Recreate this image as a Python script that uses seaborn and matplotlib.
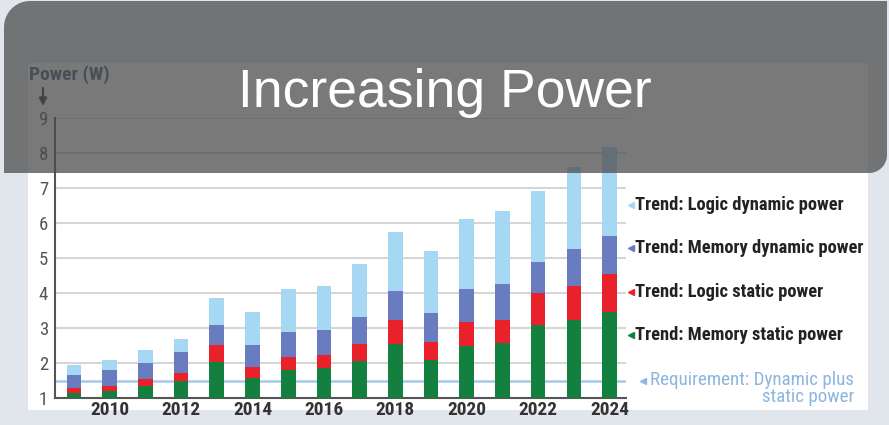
import numpy as np
import pandas as pd
import matplotlib
matplotlib.use("Agg")
import matplotlib.pyplot as plt
import seaborn as sns
from matplotlib import font_manager as fm
from matplotlib.path import Path
from matplotlib.patches import PathPatch, Rectangle
from matplotlib.transforms import blended_transform_factory

# ---- data: top of each stacked layer (W), one value per year ----
years = list(range(2009, 2025))
memory_static_top = [1.13, 1.20, 1.34, 1.49, 2.04, 1.58, 1.80, 1.85,
                     2.06, 2.54, 2.09, 2.49, 2.56, 3.09, 3.23, 3.47]
logic_static_top = [1.30, 1.34, 1.54, 1.71, 2.51, 1.90, 2.18, 2.24,
                    2.54, 3.23, 2.61, 3.18, 3.23, 3.99, 4.21, 4.53]
memory_dynamic_top = [1.66, 1.80, 1.99, 2.32, 3.09, 2.51, 2.90, 2.94,
                      3.32, 4.07, 3.42, 4.11, 4.25, 4.89, 5.25, 5.64]
logic_dynamic_top = [1.94, 2.09, 2.37, 2.70, 3.85, 3.47, 4.11, 4.20,
                     4.82, 5.74, 5.21, 6.11, 6.35, 6.91, 7.61, 8.18]
requirement_level = 1.5

y_ticks = [1, 2, 3, 4, 5, 6, 7, 8, 9]
x_tick_years = [2010, 2012, 2014, 2016, 2018, 2020, 2022, 2024]

layer_names = ["Trend: Logic dynamic power", "Trend: Memory dynamic power",
               "Trend: Logic static power", "Trend: Memory static power"]
layer_tops = [logic_dynamic_top, memory_dynamic_top,
              logic_static_top, memory_static_top]
layer_colors = ["#a7d8f3", "#687cbf", "#e8212b", "#13803f"]
label_levels = [6.51, 5.29, 4.03, 2.80]

requirement_text = "Requirement: Dynamic plus\nstatic power"
title_text = "Increasing Power"
y_title = "Power (W)"

# ---- pick a condensed sans face if one is installed ----
entries = fm.fontManager.ttflist
names = {f.name for f in entries}
stretch = "normal"
if "Liberation Sans Narrow" in names:
    fam = "Liberation Sans Narrow"
elif "Roboto Condensed" in names:
    fam = "Roboto Condensed"
elif any(f.name == "Roboto" and str(f.stretch) in ("condensed", "semi-condensed")
         for f in entries):
    fam, stretch = "Roboto", "condensed"
elif any(f.name == "DejaVu Sans" and str(f.stretch) in ("condensed", "semi-condensed")
         for f in entries):
    fam, stretch = "DejaVu Sans", "condensed"
else:
    fam = "Liberation Sans"

# ---- figure ----
W, H = 889, 425
sns.set_theme(style="white")
plt.rcParams["font.family"] = [fam, "DejaVu Sans"]
plt.rcParams["font.stretch"] = stretch

fig = plt.figure(figsize=(W / 100, H / 100), dpi=100)
fig.patch.set_facecolor("#e1e5ec")
renderer = fig.canvas.get_renderer()


def fx(px):
    return px / W


def fy(py):
    return 1 - py / H


def fitted_size(s, target_px, base=12.0, **kw):
    """Font size at which string s spans target_px pixels."""
    t = fig.text(0, 0, s, fontsize=base, **kw)
    w = t.get_window_extent(renderer).width
    t.remove()
    return base * target_px / w


trend_fs = fitted_size(layer_names[0], 210, fontweight="bold")
req_fs = fitted_size(requirement_text.split("\n")[0], 203)
xtick_fs = fitted_size("2010", 39, fontweight="bold")
ytitle_fs = fitted_size(y_title, 81, fontweight="bold")
ytick_fs = 13.5

# white card behind the chart
fig.add_artist(Rectangle((fx(28), fy(410)), (868 - 28) / W, (410 - 63) / H,
                         transform=fig.transFigure, facecolor="white",
                         edgecolor="none", zorder=-5))

ax = fig.add_axes([fx(55), fy(398), (626 - 55) / W, (398 - 118) / H])
ax.set_facecolor("none")

df = pd.DataFrame({
    "year": np.tile(years, len(layer_names)),
    "level": np.concatenate(layer_tops),
    "layer": np.repeat(layer_names, len(years)),
})

# tallest layer first so lower layers paint over it -> stacked look
for name, color in zip(layer_names, layer_colors):
    sub = df[df["layer"] == name]
    sns.barplot(data=sub, x="year", y="level", color=color, saturation=1,
                width=0.41, linewidth=0, ax=ax, zorder=3)

ax.set_ylim(1, 9)
ax.set_xlim(-0.532, 15.46)
ax.set_yticks(y_ticks)
ax.set_yticklabels([str(t) for t in y_ticks], fontsize=ytick_fs, color="#555555")
pos = [years.index(y) for y in x_tick_years]
ax.set_xticks(pos)
ax.set_xticklabels([str(y) for y in x_tick_years], fontsize=xtick_fs,
                   color="#333333", fontweight="bold")
ax.set_xlabel("")
ax.set_ylabel("")
ax.tick_params(axis="both", length=0)
ax.tick_params(axis="y", pad=5)
ax.tick_params(axis="x", pad=2)

ax.yaxis.grid(True, color="#d6d6d6", lw=1.5)
ax.set_axisbelow(True)
ax.axhline(requirement_level, color="#a9c9e8", lw=1.8, zorder=1)

for side in ["top", "right"]:
    ax.spines[side].set_visible(False)
for side in ["left", "bottom"]:
    ax.spines[side].set_color("#555555")
    ax.spines[side].set_linewidth(1.5)

# right-hand series labels with pointer triangles
tr = blended_transform_factory(ax.transAxes, ax.transData)
ax_w = 626 - 55
x_tri = (631 - 55) / ax_w
x_txt = (635 - 55) / ax_w
for name, color, lvl in zip(layer_names, layer_colors, label_levels):
    ax.plot([x_tri], [lvl], marker="<", color=color, markersize=5,
            transform=tr, clip_on=False)
    ax.text(x_txt, lvl, name, transform=tr, ha="left", va="center",
            fontsize=trend_fs, fontweight="bold", color="#222222")

# requirement note: two lines, second line right-aligned under the first
ax.plot([(643 - 55) / ax_w], [requirement_level], marker="<",
        color="#8fb9e2", markersize=5, transform=tr, clip_on=False)
ax.text((650 - 55) / ax_w, 1 + (398 - 371) / 35, requirement_text,
        transform=tr, ha="left", va="top", multialignment="right",
        linespacing=0.9, fontsize=req_fs, color="#8ab6e0")

# axis title and downward arrow
fig.text(fx(29), fy(75), y_title, ha="left", va="center", fontsize=ytitle_fs,
         fontweight="bold", color="#3f5878")
ax.annotate("", xy=(fx(43), fy(106)), xytext=(fx(43), fy(88)),
            xycoords="figure fraction", textcoords="figure fraction",
            arrowprops=dict(arrowstyle="-|>", color="#333333", lw=1.6,
                            mutation_scale=11, shrinkA=0, shrinkB=0))

# translucent header banner with rounded top-left / bottom-right corners
x0, x1, y0, y1 = 4, 887, 1, 173
r1, r2 = 26, 18
pts = [(x0, y0 + r1), (x0, y1), (x1 - r2, y1)]
for a in np.linspace(np.pi / 2, 0, 12):
    pts.append((x1 - r2 + r2 * np.cos(a), y1 - r2 + r2 * np.sin(a)))
pts += [(x1, y0), (x0 + r1, y0)]
for a in np.linspace(-np.pi / 2, -np.pi, 12):
    pts.append((x0 + r1 + r1 * np.cos(a), y0 + r1 + r1 * np.sin(a)))
verts = [(fx(px), fy(py)) for px, py in pts]
banner = PathPatch(Path(verts, closed=False), transform=fig.transFigure,
                   facecolor="#4b4b4b", edgecolor="none", alpha=0.74,
                   zorder=20)
fig.add_artist(banner)

fig.text(fx(445), fy(107), title_text, ha="center", va="baseline",
         fontsize=38.5, color="white", family=["Liberation Sans", "DejaVu Sans"],
         stretch="normal", zorder=21)

fig.savefig("out.png", dpi=100, facecolor=fig.get_facecolor())
